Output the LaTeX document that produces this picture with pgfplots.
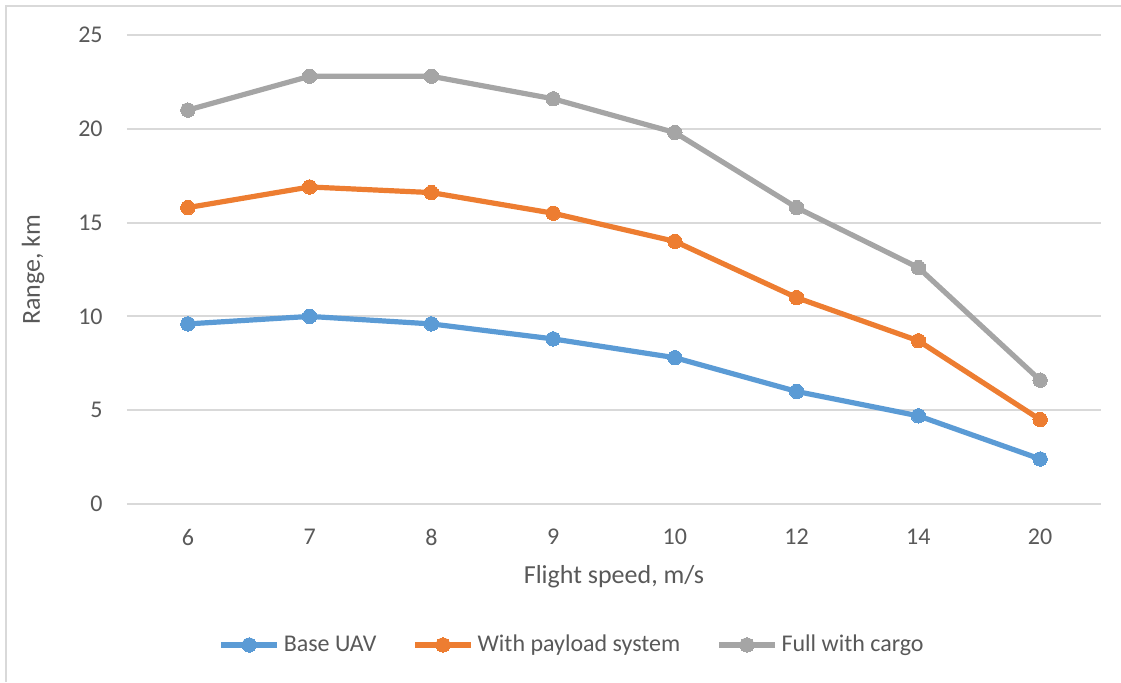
\documentclass[border=0pt]{standalone}
\usepackage{fontspec}
\setmainfont{Carlito}
\usepackage{pgfplots}
\pgfplotsset{compat=1.18}
\definecolor{serBlue}{HTML}{5B9BD5}
\definecolor{serOrange}{HTML}{ED7D31}
\definecolor{serGray}{HTML}{A5A5A5}
\definecolor{gridGray}{HTML}{D9D9D9}
\definecolor{txtGray}{HTML}{595959}
\begin{document}
\begin{tikzpicture}[x=0.5pt,y=0.5pt]
  \path[use as bounding box] (0,0) rectangle (1121,682);
  % chart frame (left and top edges)
  \draw[gridGray, line width=1pt] (6,0) -- (6,676) -- (1121,676);
  \begin{axis}[
    at={(63.5pt,89pt)}, anchor=south west,
    scale only axis,
    width=487pt, height=234.5pt,
    xmin=-0.5, xmax=7.5, ymin=0, ymax=25,
    xtick={0,1,2,3,4,5,6,7},
    xticklabels={6,7,8,9,10,12,14,20},
    ytick={0,5,10,15,20,25},
    axis line style={draw=none},
    major tick length=0pt,
    ymajorgrids,
    grid style={gridGray, line width=1pt},
    /pgf/number format/assume math mode=true,
    tick label style={font=\fontsize{12}{14}\selectfont, text=txtGray},
    yticklabel style={anchor=east, inner sep=0pt, xshift=-12pt},
    xticklabel style={anchor=north, inner sep=0pt, yshift=-12.5pt},
    xlabel={Flight speed, m/s},
    ylabel={Range, km},
    label style={font=\fontsize{13}{15}\selectfont, text=txtGray},
    xlabel style={at={(axis description cs:0.5,-0.1557)}, anchor=center},
    ylabel style={at={(axis description cs:-0.0965,0.5)}, anchor=center},
    legend columns=3,
    legend style={at={(axis description cs:0.457,-0.3006)}, anchor=center,
      draw=none, fill=none, inner sep=0pt,
      font=\fontsize{12}{14}\selectfont, text=txtGray,
      nodes={inner sep=1pt},
      /tikz/every odd column/.append style={column sep=1pt},
      /tikz/every even column/.append style={column sep=17pt}},
    legend image code/.code={
      \draw[mark repeat=2, mark phase=2] plot coordinates {(0pt,0pt) (14pt,0pt) (28pt,0pt)};
    },
    every axis plot/.append style={line width=2.6pt, mark=*, mark size=3.6pt},
    clip=false,
  ]
    \addplot[serBlue, mark options={fill=serBlue, draw=serBlue, line width=0pt}] coordinates {
      (0,9.6) (1,10.0) (2,9.6) (3,8.8) (4,7.8) (5,6.0) (6,4.7) (7,2.4)};
    \addlegendentry{Base UAV}
    \addplot[serOrange, mark options={fill=serOrange, draw=serOrange, line width=0pt}] coordinates {
      (0,15.8) (1,16.9) (2,16.6) (3,15.5) (4,14.0) (5,11.0) (6,8.7) (7,4.5)};
    \addlegendentry{With payload system}
    \addplot[serGray, mark options={fill=serGray, draw=serGray, line width=0pt}] coordinates {
      (0,21.0) (1,22.8) (2,22.8) (3,21.6) (4,19.8) (5,15.8) (6,12.6) (7,6.6)};
    \addlegendentry{Full with cargo}
  \end{axis}
\end{tikzpicture}
\end{document}
